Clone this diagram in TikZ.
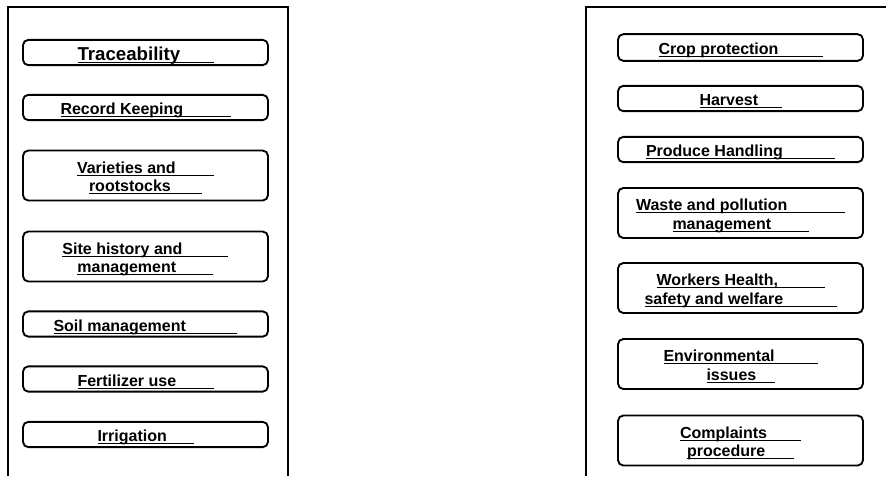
\documentclass[tikz,border=0pt]{standalone}
\usepackage{fontspec}
\setmainfont{Liberation Sans}
\usepackage{xcolor}

% underlined text, padded to a given width (in px of the picture), set a bit low
\newcommand{\ulpad}[2]{\raisebox{-2.2pt}[\height][\depth]{\underline{\makebox[\dimexpr #1pt*3/4\relax][l]{\smash{#2}\vphantom{A}}}}}

\tikzset{
  topic/.style={draw, line width=1.4pt, rounded corners=4pt, minimum width=183.75pt,
    minimum height=19pt, inner sep=0pt, align=center,
    font=\bfseries\fontsize{12}{13.9}\selectfont},
  tall/.style={minimum height=37.5pt},
  panel/.style={line width=0.8pt, black}
}

\begin{document}
\begin{tikzpicture}[x=0.75pt, y=-0.75pt]
        \useasboundingbox (0,0) rectangle (886,476);

        % Define corners of the two panels
        \coordinate (L1) at (8, 476);    % Left panel, bottom-left
        \coordinate (L2) at (8, 7);      % Left panel, top-left
        \coordinate (L3) at (288, 7);    % Left panel, top-right
        \coordinate (L4) at (288, 476);  % Left panel, bottom-right
        \coordinate (R1) at (586, 476);  % Right panel, bottom-left
        \coordinate (R2) at (586, 7);    % Right panel, top-left
        \coordinate (R3) at (886, 7);    % Right panel, top-right

        % Draw panel outlines
        \draw[panel] (L1) -- (L2) -- (L3) -- (L4);
        \draw[panel] (R1) -- (R2) -- (R3);

        % Left column of topics
        \node[topic, font=\bfseries\fontsize{14}{16}\selectfont] (trace) at (145.5, 52.5) {\ulpad{136}{Traceability}};
        \node[topic] (record) at (145.5, 107.5) {\ulpad{170}{Record Keeping}};
        \node[topic, tall] (variety) at (145.5, 175.5) {\ulpad{137}{Varieties and}\\\ulpad{113}{rootstocks}};
        \node[topic, tall] (site) at (145.5, 256.5) {\ulpad{166}{Site history and}\\\ulpad{136}{management}};
        \node[topic] (soil) at (145.5, 324) {\ulpad{184}{Soil management}};
        \node[topic] (fert) at (145.5, 379) {\ulpad{136}{Fertilizer use}};
        \node[topic] (irrig) at (145.5, 434.5) {\ulpad{96}{Irrigation}};

        % Right column of topics
        \node[topic, minimum height=20pt] (crop) at (740.5, 47.5) {\ulpad{164}{Crop protection}};
        \node[topic] (harvest) at (740.5, 98.5) {\ulpad{82}{Harvest}};
        \node[topic] (produce) at (740.5, 149.5) {\ulpad{189}{Produce Handling}};
        \node[topic, tall] (waste) at (740.5, 213) {\ulpad{209}{Waste and pollution}\\\ulpad{136}{management}};
        \node[topic, tall] (workers) at (740.5, 288) {\ulpad{168}{Workers Health,}\\\ulpad{192}{safety and welfare}};
        \node[topic, tall] (env) at (740.5, 364) {\ulpad{154}{Environmental}\\\ulpad{68}{issues}};
        \node[topic, tall] (complain) at (740.5, 440.5) {\ulpad{121}{Complaints}\\\ulpad{107}{procedure}};

    \end{tikzpicture}
\end{document}
